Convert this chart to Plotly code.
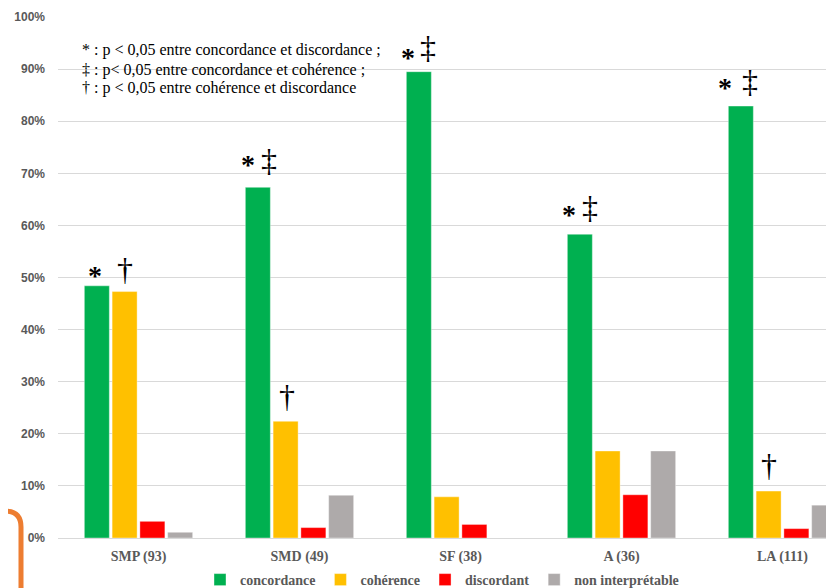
import plotly.graph_objects as go

categories = ["SMP (93)", "SMD (49)", "SF (38)", "A (36)", "LA (111)"]
series_names = ["concordance", "cohérence", "discordant", "non interprétable"]
concordance = [48.4, 67.3, 89.5, 58.3, 82.9]
coherence = [47.3, 22.4, 7.9, 16.7, 9.0]
discordant = [3.2, 2.0, 2.6, 8.3, 1.8]
non_interpretable = [1.1, 8.2, 0.0, 16.7, 6.3]
series_values = [concordance, coherence, discordant, non_interpretable]
colors = ["#00B050", "#FFC000", "#FF0000", "#AEAAAA"]

y_tick_vals = [0, 10, 20, 30, 40, 50, 60, 70, 80, 90, 100]
y_tick_text = ["0%", "10%", "20%", "30%", "40%", "50%", "60%", "70%", "80%", "90%", "100%"]

# significance marks: (category index, series index, symbol, x shift px, y shift px)
marks = [
    (0, 0, "*", -2, -6), (0, 1, "†", 0, 4),
    (1, 0, "*", -10, 6), (1, 0, "‡", 11, 8),
    (2, 0, "*", -11, -2), (2, 0, "‡", 9, 6),
    (3, 0, "*", -11, 3), (3, 0, "‡", 10, 8),
    (4, 0, "*", -16, 2), (4, 0, "‡", 9, 6),
    (1, 1, "†", 1, 6), (4, 1, "†", 0, 7),
]

note_lines = ["* : p < 0,05 entre concordance et discordance ;",
              "‡ : p< 0,05 entre concordance et cohérence ;",
              "† : p < 0,05 entre cohérence et discordance"]

bargap = 0.31
n_series = len(series_values)

fig = go.Figure()
for name, vals, col in zip(series_names, series_values, colors):
    fig.add_trace(go.Bar(
        x=categories, y=vals, name=name,
        marker=dict(color=col, line=dict(color="rgba(255,255,255,0.5)", width=0.75)),
    ))

slot = (1 - bargap) / n_series
offsets = [(-(1 - bargap) / 2 + slot * (k + 0.5)) for k in range(n_series)]

for ci, si, sym, xs, ys in marks:
    is_star = sym == "*"
    fig.add_annotation(
        x=ci + offsets[si], y=series_values[si][ci], xref="x", yref="y",
        text=sym, showarrow=False, xanchor="center", yanchor="bottom",
        xshift=xs, yshift=ys,
        font=dict(family="Liberation Serif", size=(28 if is_star else 32), color="#000000",
                  weight=("bold" if is_star else "normal")),
        borderpad=0,
    )

# the page is drawn with an 8px body offset; positions below are in window pixels
OFF = 8
PLOT_L, PLOT_T, PLOT_B = 58, 17, 538
FIG_W, FIG_H = 834, 588
plot_w = FIG_W - (PLOT_L - OFF)
px_x = lambda px: (px - PLOT_L) / plot_w
px_y = lambda py: (PLOT_B - py) / (PLOT_B - PLOT_T)

# white backing for the note (hides gridline behind it)
fig.add_shape(type="rect", xref="paper", yref="paper", layer="below",
              x0=px_x(76), x1=px_x(382), y0=px_y(97), y1=px_y(40),
              line=dict(width=0), fillcolor="#FFFFFF")

for line, py in zip(note_lines, [50, 69.5, 88]):
    fig.add_annotation(
        x=px_x(81), y=px_y(py), xref="paper", yref="paper",
        text=line, showarrow=False, xanchor="left", yanchor="middle", align="left",
        font=dict(family="Liberation Serif", size=16, color="#000000"),
        borderpad=0,
    )

# orange border fragment at lower left
fig.add_shape(
    type="path", xref="paper", yref="paper",
    path=(f"M {px_x(-5)} {px_y(511)} L {px_x(5)} {px_y(511)} "
          f"Q {px_x(21)} {px_y(511)} {px_x(21)} {px_y(527)} L {px_x(21)} {px_y(600)}"),
    line=dict(color="#ED7D31", width=5),
)

cat_px = 161
x_max = -0.5 + plot_w / cat_px

fig.update_layout(
    width=FIG_W, height=FIG_H,
    margin=dict(l=PLOT_L - OFF, r=0, t=PLOT_T - OFF, b=FIG_H - (PLOT_B - OFF), autoexpand=False),
    paper_bgcolor="#FFFFFF", plot_bgcolor="#FFFFFF",
    barmode="group", bargap=bargap, bargroupgap=0.1,
    showlegend=True,
    legend=dict(orientation="h", x=px_x(442), xanchor="center",
                y=px_y(580), yanchor="middle",
                font=dict(family="Liberation Serif", size=14, color="#595959", weight="bold"),
                itemwidth=30, tracegroupgap=0),
    xaxis=dict(type="category", range=[-0.5, x_max], showgrid=False, ticks="",
               tickfont=dict(family="Liberation Serif", size=14, color="#595959", weight="bold"),
               showline=False, zeroline=False, ticklabelstandoff=8),
    yaxis=dict(range=[0, 100], tickvals=y_tick_vals, ticktext=y_tick_text,
               gridcolor="#D9D9D9", gridwidth=1, zeroline=True, zerolinecolor="#D9D9D9",
               zerolinewidth=1, showline=False, ticks="", ticklabelstandoff=12,
               tickfont=dict(family="Liberation Sans", size=12, color="#595959", weight="bold")),
)

fig.write_html("out.html")
